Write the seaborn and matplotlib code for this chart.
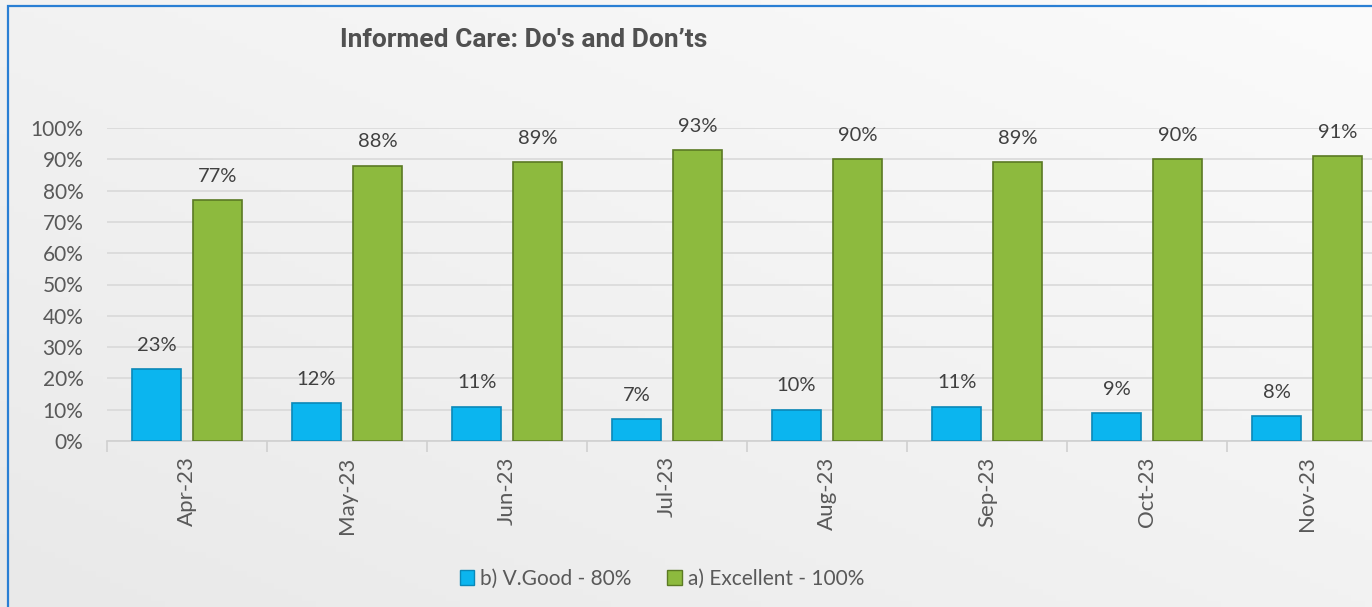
import numpy as np
import pandas as pd
import seaborn as sns
import matplotlib.pyplot as plt
from matplotlib.patches import Rectangle, Patch
from matplotlib.ticker import FixedLocator

# data
months = ['Apr-23', 'May-23', 'Jun-23', 'Jul-23', 'Aug-23', 'Sep-23', 'Oct-23', 'Nov-23']
vgood = [23, 12, 11, 7, 10, 11, 9, 8]
excellent = [77, 88, 89, 93, 90, 89, 90, 91]
series_names = ['b) V.Good - 80%', 'a) Excellent - 100%']
colors = ['#0bb5ef', '#8dba3e']
edges = ['#0a88b8', '#5b7a24']

df = pd.DataFrame({
    'month': months * 2,
    'series': [series_names[0]] * len(months) + [series_names[1]] * len(months),
    'value': vgood + excellent,
})

sns.set_theme(style='white')
plt.rcParams['font.family'] = ['Lato', 'DejaVu Sans']

fig = plt.figure(figsize=(13.72, 6.07), dpi=100)

# soft gray background gradient
bg = fig.add_axes([0, 0, 1, 1], zorder=-10)
gx, gy = np.meshgrid(np.linspace(0, 1, 200), np.linspace(0, 1, 100))
grad = 0.5 * gx + 0.5 * gy
bg.imshow(grad, cmap=sns.blend_palette(['#e9e9e9', '#fbfbfb'], as_cmap=True),
          aspect='auto', extent=[0, 1, 0, 1], origin='lower')
bg.axis('off')

# blue frame of the chart area
fig.patches.append(Rectangle((8 / 1372, -0.1), 1.2, 1 - 6 / 607 + 0.1,
                             transform=fig.transFigure, fill=False,
                             edgecolor='#2a7fd4', linewidth=1.6))

ax = fig.add_axes([107 / 1372, 1 - 441 / 607, 1280 / 1372, 313 / 607])
ax.set_facecolor('none')

sns.barplot(data=df, x='month', y='value', hue='series', hue_order=series_names,
            palette=colors, saturation=1, width=0.76, gap=0.19, ax=ax, legend=False)

for cont, ec in zip(ax.containers, edges):
    for bar in cont:
        bar.set_edgecolor(ec)
        bar.set_linewidth(1.2)
        bar.set_zorder(3)
    ax.bar_label(cont, labels=[f'{v:.0f}%' for v in cont.datavalues],
                 padding=11, fontsize=14.5, color='#404040')

ax.set_xlim(-0.5, len(months) - 0.5)
ax.set_ylim(0, 100)
ax.set_yticks(range(0, 101, 10))
ax.set_yticklabels([f'{t}%' for t in range(0, 101, 10)])
ax.yaxis.grid(True, color='#d9d9d9', linewidth=1.2)
ax.set_axisbelow(True)
ax.set_xlabel('')
ax.set_ylabel('')

for s in ['top', 'right', 'left']:
    ax.spines[s].set_visible(False)
ax.spines['bottom'].set_color('#d0d0d0')
ax.spines['bottom'].set_linewidth(1.2)

ax.tick_params(axis='y', length=0, labelsize=15, labelcolor='#595959', pad=17)
ax.tick_params(axis='x', which='major', length=0, labelsize=16,
               labelcolor='#595959', labelrotation=90, pad=11)
ax.xaxis.set_minor_locator(FixedLocator(np.arange(-0.5, len(months), 1)))
ax.tick_params(axis='x', which='minor', bottom=True, length=8, width=1.2,
               color='#d0d0d0')

fig.text(340 / 1372, 1 - 40 / 607, "Informed Care: Do's and Don\u2019ts",
         fontsize=19, fontweight='bold', color='#505050', va='center', ha='left',
         family=['Roboto', 'DejaVu Sans'])

handles = [Patch(facecolor=c, edgecolor=e) for c, e in zip(colors, edges)]
fig.legend(handles, series_names, loc='center', bbox_to_anchor=(662 / 1372, 1 - 579 / 607),
           ncol=2, frameon=False, fontsize=15, labelcolor='#595959',
           handlelength=0.7, handleheight=0.7, handletextpad=0.3, columnspacing=1.7)

fig.savefig('out.png', dpi=100)
